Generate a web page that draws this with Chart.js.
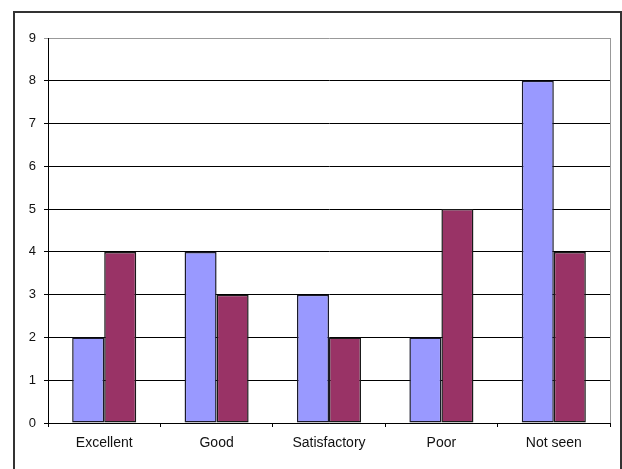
<!DOCTYPE html>
<html>
<head>
<meta charset="utf-8">
<script src="https://cdn.jsdelivr.net/npm/chart.js@4.4.1/dist/chart.umd.min.js"></script>
<style>
  html, body { margin: 0; padding: 0; background: #fff; }
  #wrap { position: relative; width: 622px; height: 469px; }
</style>
</head>
<body>
<div id="wrap"><canvas id="ratings-chart" width="622" height="469"></canvas></div>
<script>
const categories = ["Excellent", "Good", "Satisfactory", "Poor", "Not seen"];
const seriesA = [2, 4, 3, 2, 8];
const seriesB = [4, 3, 2, 5, 4];
const yTicks = [0, 1, 2, 3, 4, 5, 6, 7, 8, 9];

// outer frame + gray plot edge, like the old spreadsheet chart
const framePlugin = {
  id: "frame",
  afterDraw(chart) {
    const c = chart.ctx;
    const a = chart.chartArea;
    c.save();
    c.strokeStyle = "#333";
    c.lineWidth = 2;
    c.beginPath();
    c.moveTo(14, 470);
    c.lineTo(14, 12);
    c.lineTo(621, 12);
    c.lineTo(621, 470);
    c.stroke();
    c.strokeStyle = "#999";
    c.lineWidth = 1;
    c.beginPath();
    c.moveTo(a.right + 0.5, a.top);
    c.lineTo(a.right + 0.5, a.bottom);
    c.stroke();
    c.restore();
  }
};

const ctx = document.getElementById("ratings-chart");

new Chart(ctx, {
  type: "bar",
  data: {
    labels: categories,
    datasets: [
      {
        data: seriesA,
        backgroundColor: "#9999ff",
        borderColor: "#1a1a2a",
        borderWidth: 1.5,
        borderSkipped: false,
      },
      {
        data: seriesB,
        backgroundColor: "#993366",
        borderColor: "#1a1a1a",
        borderWidth: 1.5,
        borderSkipped: false,
      },
    ],
  },
  plugins: [framePlugin],
  options: {
    responsive: false,
    animation: false,
    events: [],
    layout: {
      padding: { top: 38, right: 12, bottom: 0, left: 0 },
    },
    datasets: {
      bar: {
        categoryPercentage: 0.57,
        barPercentage: 1.0,
      },
    },
    plugins: {
      legend: { display: false },
      tooltip: { enabled: false },
    },
    scales: {
      x: {
        grid: {
          offset: true,
          drawOnChartArea: false,
          drawTicks: true,
          tickLength: 4,
          color: "#000",
        },
        border: { color: "#000", width: 1 },
        ticks: {
          color: "#111",
          padding: 8,
          font: { family: "'Liberation Sans', Arial, sans-serif", size: 14 },
          maxRotation: 0,
        },
        afterFit(scale) {
          scale.height = 46;
        },
      },
      y: {
        min: 0,
        max: 9,
        afterBuildTicks(scale) {
          scale.ticks = yTicks.map((v) => ({ value: v }));
        },
        grid: {
          color: (c) => (c.tick && c.tick.value === 9 ? "#999" : "#000"),
          tickLength: 4,
          drawTicks: true,
        },
        border: { color: "#000", width: 1 },
        ticks: {
          color: "#111",
          padding: 8,
          font: { family: "'Liberation Sans', Arial, sans-serif", size: 13 },
        },
        afterFit(scale) {
          scale.width = 48;
        },
      },
    },
  },
});
</script>
</body>
</html>
